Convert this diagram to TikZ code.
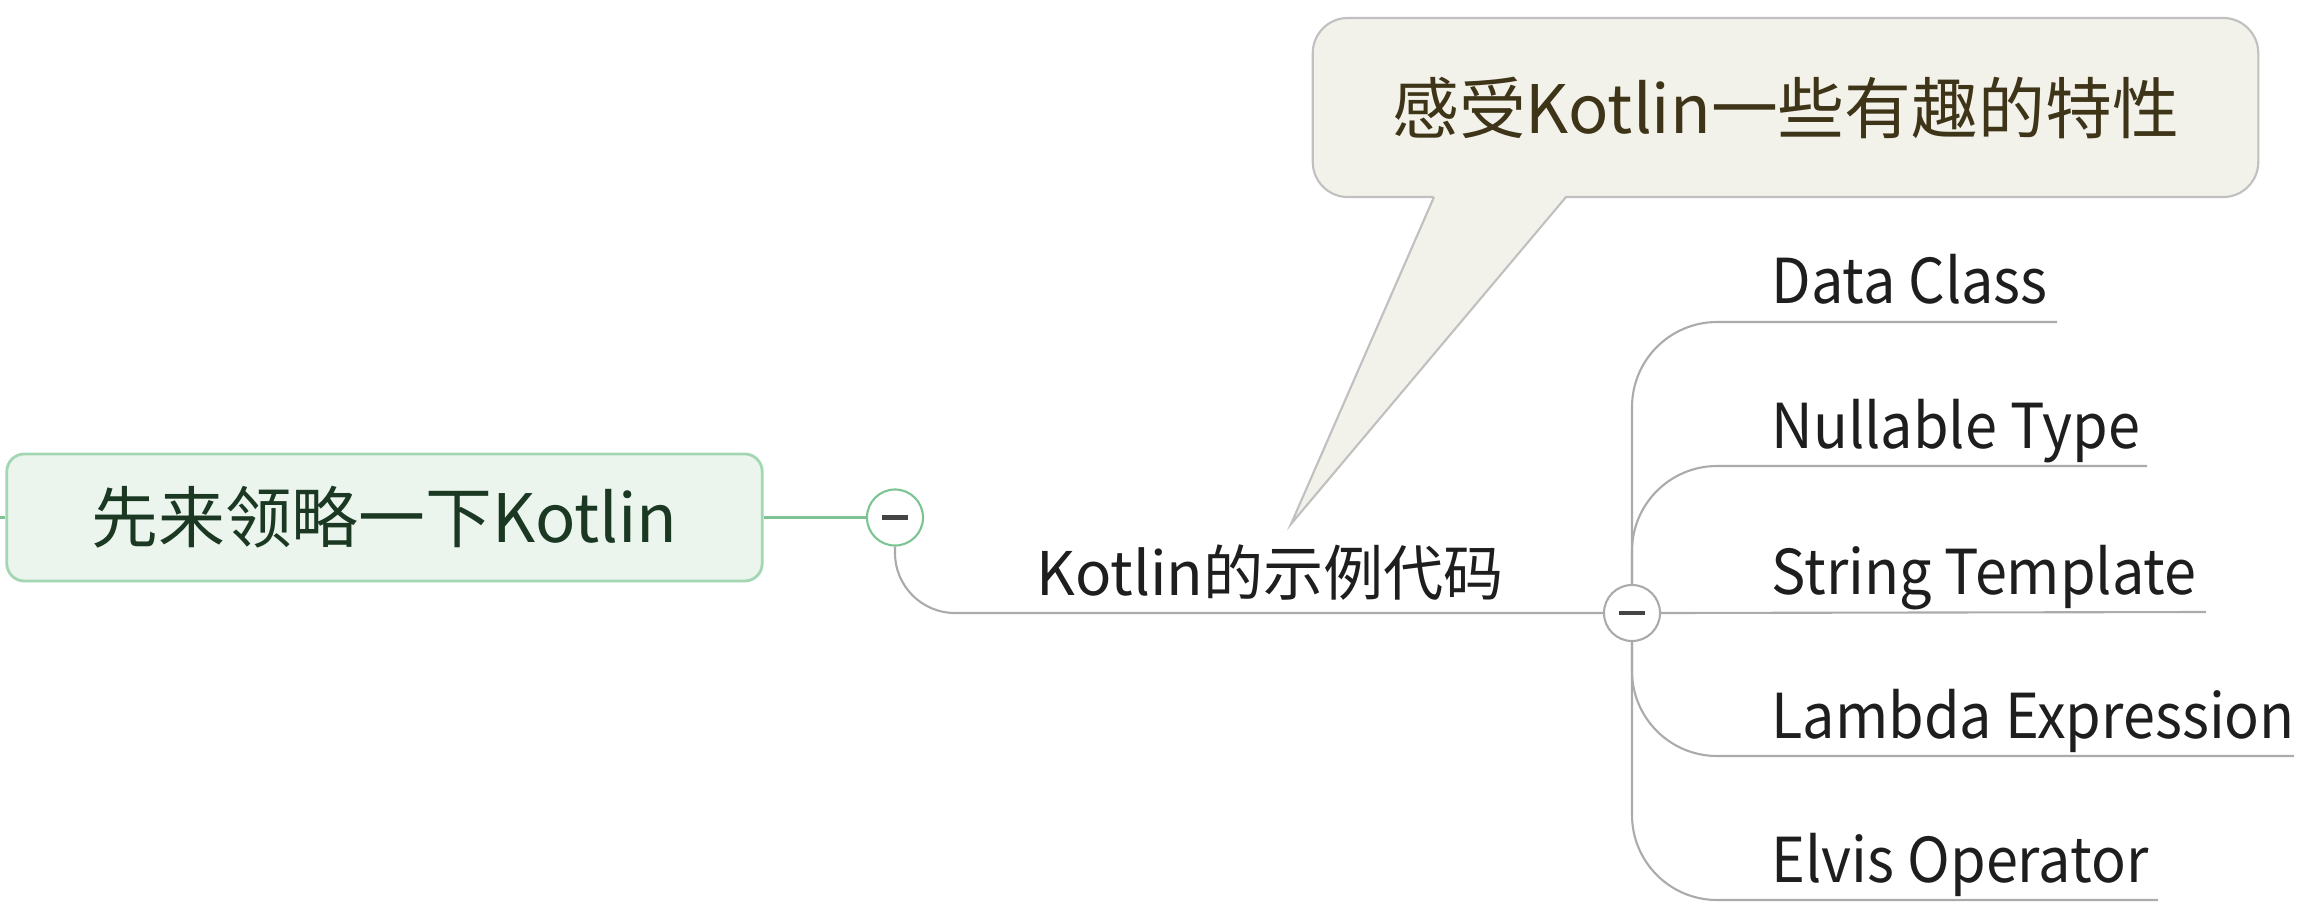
\documentclass[tikz,border=0pt]{standalone}
\usepackage{fontspec}
\setmainfont{Noto Sans CJK SC}
\newfontfamily\leaffont[FakeStretch=0.93]{Noto Sans CJK SC}
\definecolor{rootfill}{HTML}{EBF5EE}
\definecolor{rootdraw}{HTML}{A3D7B3}
\definecolor{roottext}{HTML}{1A3822}
\definecolor{rootline}{HTML}{7CC593}
\definecolor{branchcol}{HTML}{ABABAB}
\definecolor{notefill}{HTML}{F2F1EA}
\definecolor{notedraw}{HTML}{C0C0C0}
\definecolor{notetext}{HTML}{3E3418}
\definecolor{leaftext}{HTML}{1E1E1E}
\definecolor{minuscol}{HTML}{444444}
\begin{document}
\begin{tikzpicture}[x=0.01cm,y=-0.01cm,
  rootbox/.style={draw=rootdraw,fill=rootfill,line width=0.8pt,rounded corners=5pt,
    minimum width=7.55cm,minimum height=1.27cm,text=roottext,font=\fontsize{19}{22}\selectfont},
  notebox/.style={draw=notedraw,fill=notefill,line width=0.6pt,rounded corners=10pt,
    minimum width=9.45cm,minimum height=1.79cm,text=notetext,font=\fontsize{19}{22}\selectfont},
  toggle/.style={circle,draw=#1,fill=white,line width=0.6pt,minimum size=0.56cm,inner sep=0pt,
    path picture={\draw[line width=1.2pt,minuscol]
      ([xshift=-0.13cm]path picture bounding box.center) -- ([xshift=0.13cm]path picture bounding box.center);}},
  subtopic/.style={inner sep=0pt,text=leaftext,font=\fontsize{17.1}{20}\selectfont},
  leaf/.style={inner sep=0pt,text=leaftext,font=\leaffont\fontsize{17.6}{20}\selectfont},
  greenline/.style={rootline,line width=0.6pt},
  branch/.style={branchcol,line width=0.6pt}]
 \useasboundingbox (0,0) rectangle (2306,918);
 % central topic and the callout
 \node[rootbox] (root) at (384.5,517.5) {先来领略一下Kotlin};
 \coordinate (parent) at (0,517.5);
 \node[notebox] (note) at (1785.5,107.5) {感受Kotlin一些有趣的特性};
 \coordinate (tip) at (1291,524);
 \fill[notefill] (1434,195) -- (tip) -- (1566,195) -- cycle;
 \draw[notedraw,line width=0.6pt] (1434,197) -- (tip) -- (1566,197);
 % collapse buttons
 \node[toggle=rootline] (c1) at (895,517.5) {};
 \node[toggle=branchcol] (c2) at (1632,613) {};
 \draw[greenline] (parent) -- (root.west);
 \draw[greenline] (root.east) -- (c1.west);
 \draw[branch,rounded corners=0.6cm] (c1.south) |- (c2.west);
 \node[subtopic,anchor=base west] (sub) at (1036,595) {Kotlin的示例代码};
 % leaves
 \node[leaf,anchor=base west] (dc) at (1771,303) {Data Class};
 \node[leaf,anchor=base west] (nt) at (1771,448) {Nullable Type};
 \node[leaf,anchor=base west] (st) at (1771,594) {String Template};
 \node[leaf,anchor=base west] (le) at (1771,738) {Lambda Expression};
 \node[leaf,anchor=base west] (eo) at (1771,882) {Elvis Operator};
 \coordinate (dce) at (2057,322);
 \coordinate (nte) at (2147,466);
 \coordinate (ste) at (2206,612);
 \coordinate (lee) at (2294,756);
 \coordinate (eoe) at (2158,900);
 \draw[branch,rounded corners=0.85cm] (c2.north) |- (dce);
 \draw[branch,rounded corners=0.85cm] (c2.north) |- (nte);
 \draw[branch] (c2.east) -- (ste);
 \draw[branch,rounded corners=0.85cm] (c2.south) |- (lee);
 \draw[branch,rounded corners=0.85cm] (c2.south) |- (eoe);
\end{tikzpicture}
\end{document}
